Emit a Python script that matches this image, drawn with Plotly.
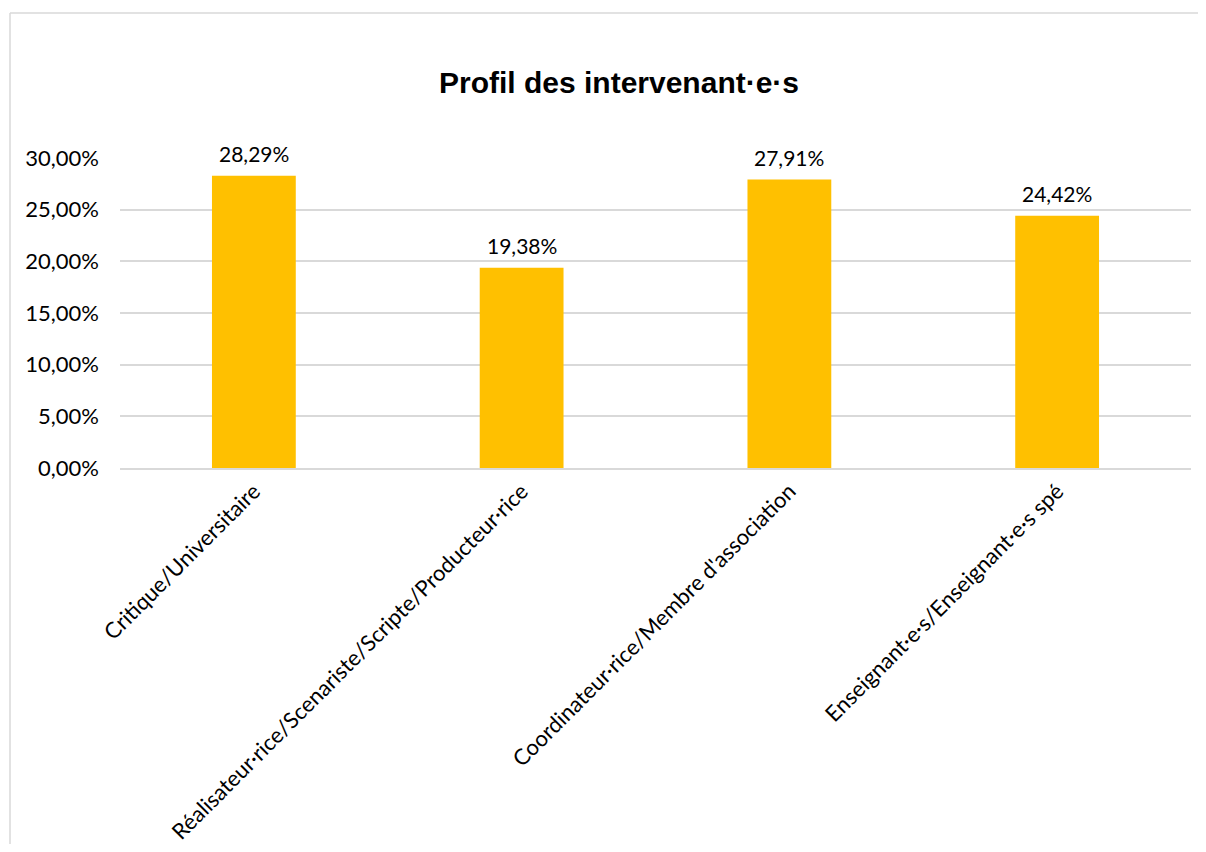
import plotly.graph_objects as go

categories = [
    "Critique/Universitaire",
    "Réalisateur·rice/Scenariste/Scripte/Producteur·rice",
    "Coordinateur·rice/Membre d'association",
    "Enseignant·e·s/Enseignant·e·s spé",
]
values = [0.2829, 0.1938, 0.2791, 0.2442]
value_labels = ["28,29%", "19,38%", "27,91%", "24,42%"]
y_ticks = [0, 0.05, 0.10, 0.15, 0.20, 0.25, 0.30]

# page body has an 8px margin on every side; keep the page inside the window
OFF = 8
WIN_W, WIN_H = 1206, 852
W, H = WIN_W - 2 * OFF, WIN_H - 2 * OFF
L, T = 120 - OFF, 158 - OFF
R = (OFF + W) - 1191
B = (OFF + H) - 468
pw, ph = W - L - R, H - T - B

font_main = "Lato, Calibri, Carlito, sans-serif"
GRID = "#d9d9d9"

fig = go.Figure()
fig.add_trace(go.Bar(
    x=categories, y=values,
    marker=dict(color="#FFC000", line=dict(width=0)),
    width=0.313,
    hoverinfo="skip",
))

for c, v, t in zip(categories, values, value_labels):
    fig.add_annotation(x=c, y=v, text=t, showarrow=False, yanchor="bottom",
                       yshift=8, font=dict(family=font_main, size=21, color="#000000"))

# outer chart border (top and left visible)
bx = (10 - OFF - L) / pw
by = (ph + T - (13 - OFF)) / ph
fig.add_shape(type="line", xref="paper", yref="paper", x0=bx, x1=1.2, y0=by, y1=by,
              line=dict(color=GRID, width=1.5))
fig.add_shape(type="line", xref="paper", yref="paper", x0=bx, x1=bx, y0=by, y1=-2,
              line=dict(color=GRID, width=1.5))

fig.update_layout(
    width=W, height=H,
    margin=dict(l=L, r=R, t=T, b=B, autoexpand=False),
    paper_bgcolor="white", plot_bgcolor="white",
    separators=",.",
    showlegend=False,
    title=dict(text="<b>Profil des intervenant·e·s</b>", x=(619 - OFF) / W, xanchor="center",
               y=1 - (82 - OFF) / H, yanchor="middle",
               font=dict(family="Arial, Liberation Sans, sans-serif", size=30, color="#000000")),
    xaxis=dict(
        tickangle=-45,
        tickfont=dict(family=font_main, size=22, color="#000000"),
        showline=True, linecolor=GRID, linewidth=1.5,
        ticks="", showgrid=False, automargin=False,
    ),
    yaxis=dict(
        range=[0, 0.30],
        tickvals=y_ticks,
        tickformat=".2%",
        tickfont=dict(family=font_main, size=22, color="#000000"),
        showgrid=True, gridcolor=GRID, gridwidth=1.5,
        zeroline=False, showline=False, ticks="",
        ticklabelstandoff=20, automargin=False,
    ),
)

fig.write_html("out.html", post_script="document.body.style.overflow='hidden';")
